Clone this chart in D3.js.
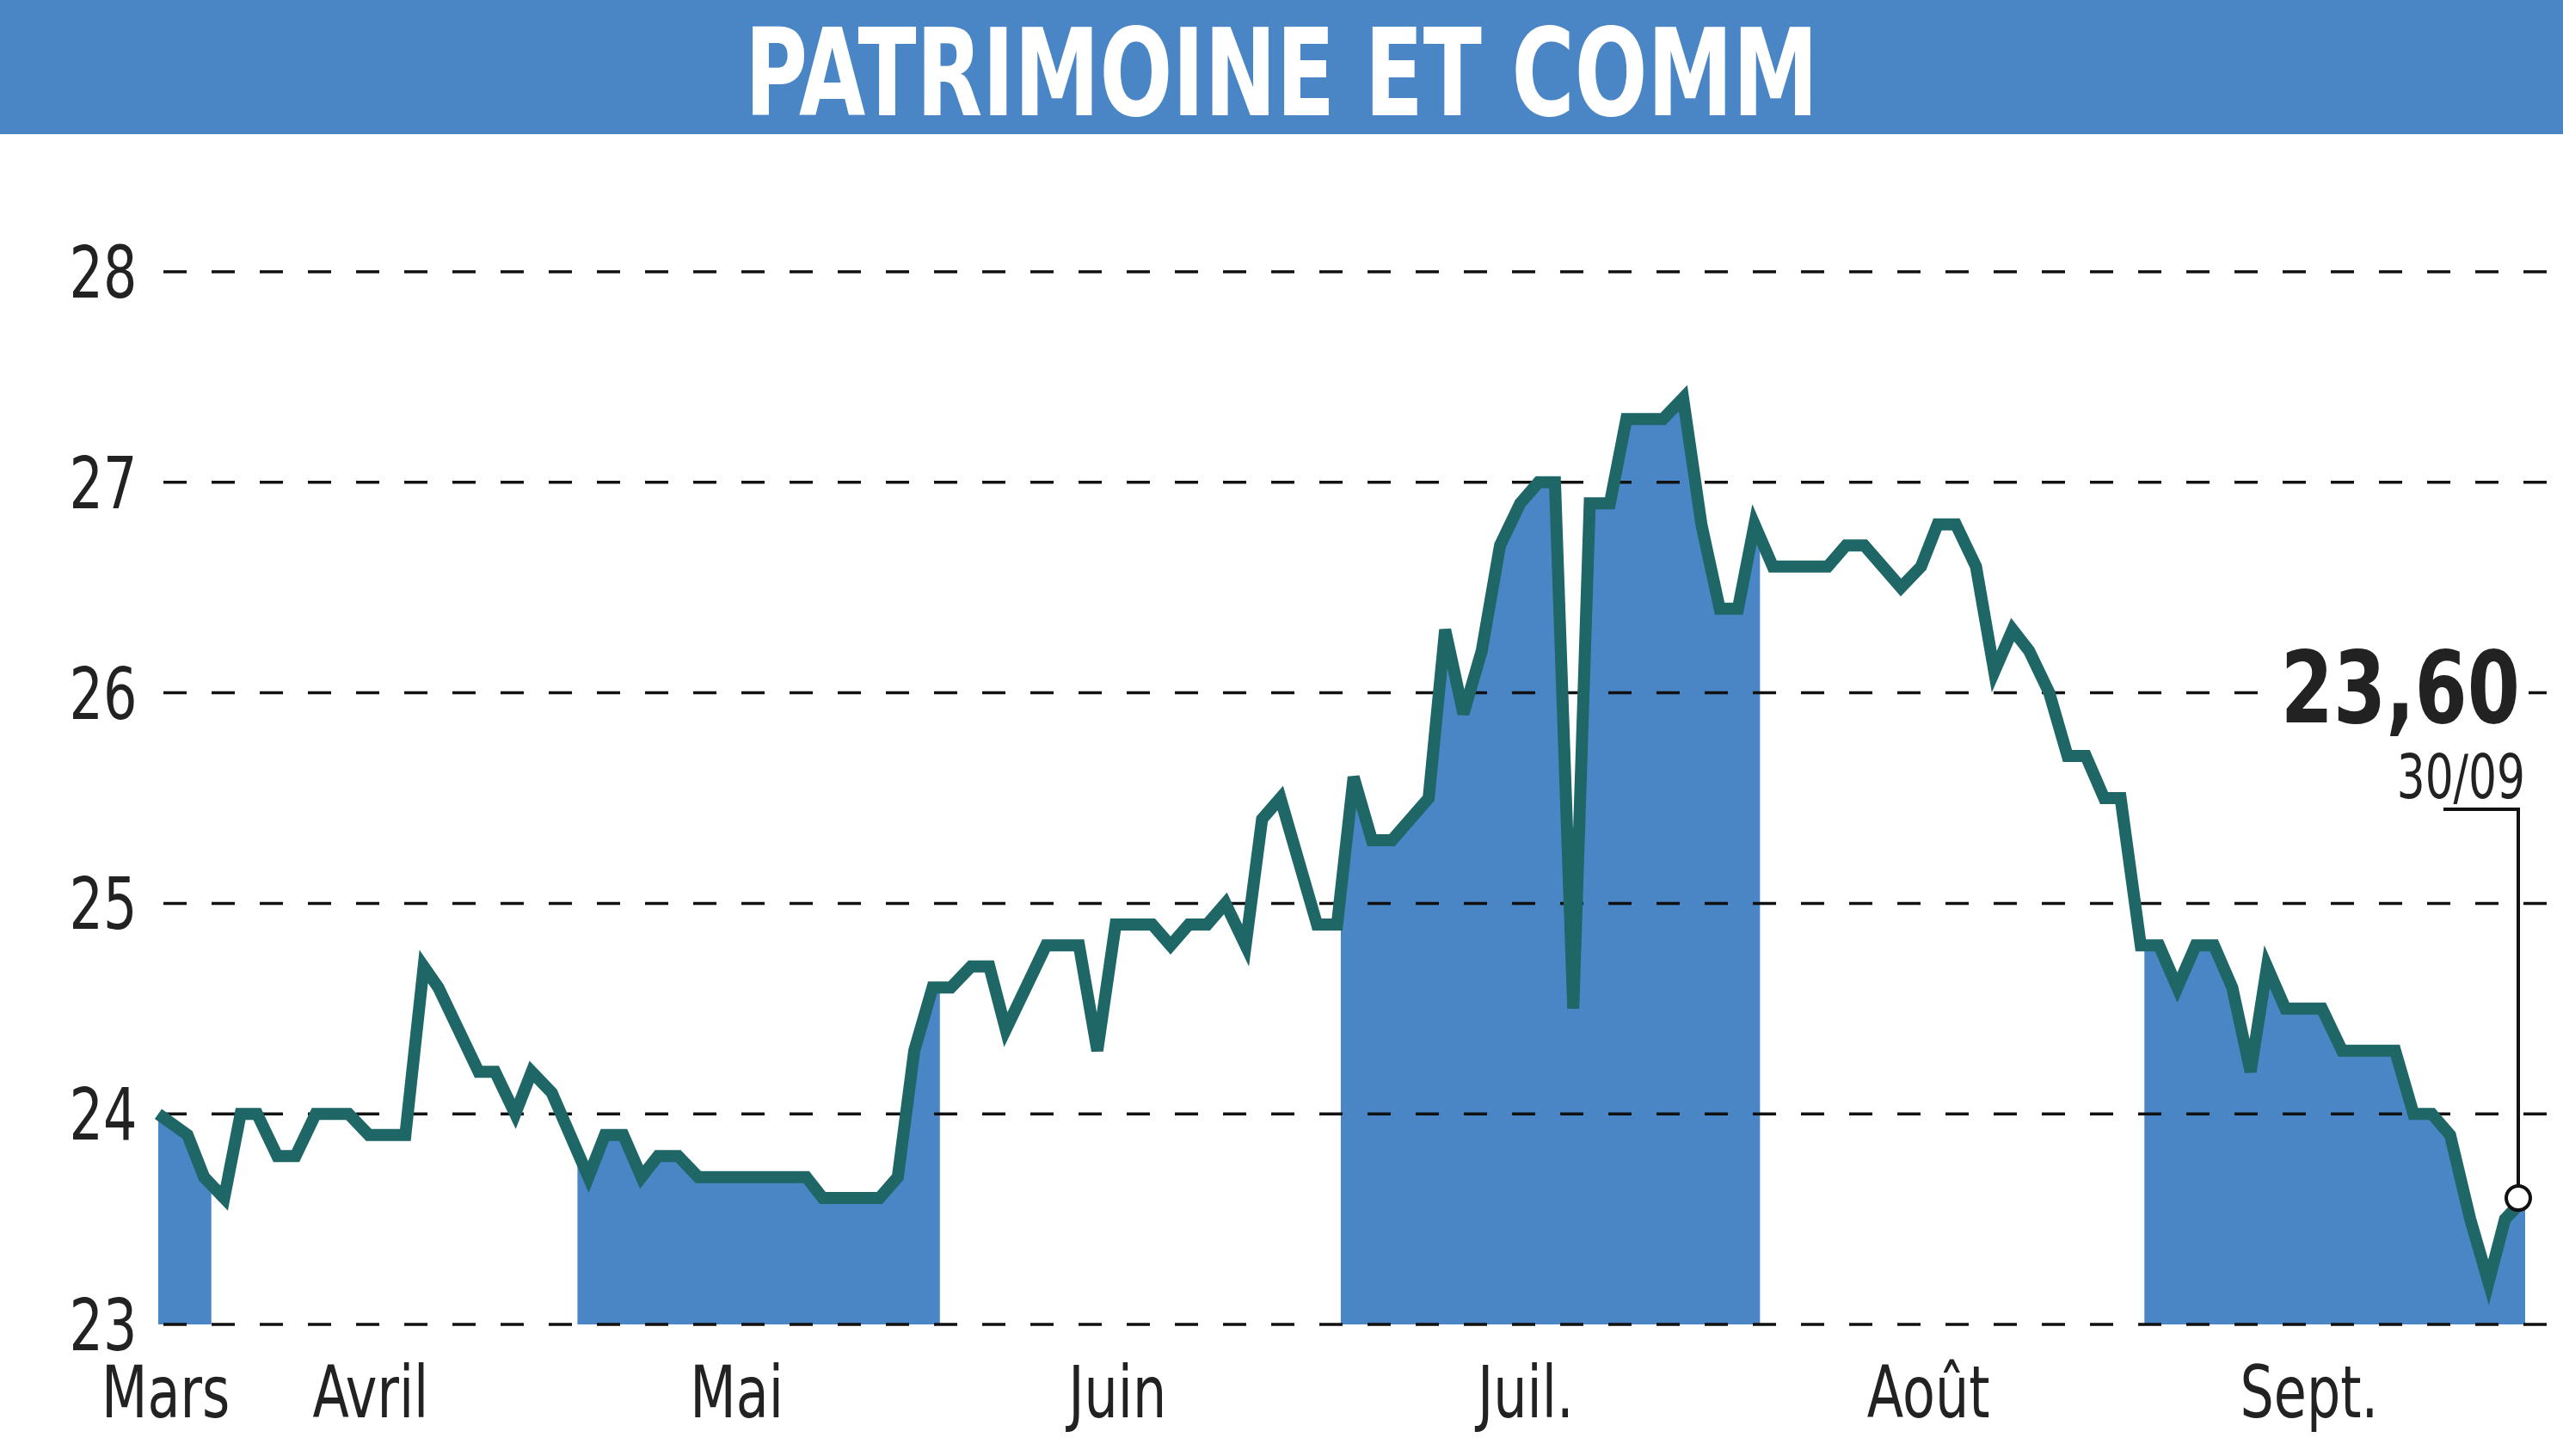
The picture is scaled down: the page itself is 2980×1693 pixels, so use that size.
<!DOCTYPE html>
<html><head><meta charset="utf-8">
<script src="https://cdn.jsdelivr.net/npm/d3@7/dist/d3.min.js"></script>
<style>body{margin:0;background:#fff}</style></head>
<body><svg id="c" width="2980" height="1693"></svg>
<script>
const title = "PATRIMOINE ET COMM";
const days = [0,1.6,2.5,3.6,4.5,5.4,6.5,7.5,8.6,10.4,11.5,13.5,14.5,15.3,17.5,18.4,19.5,20.4,21.5,23.5,24.4,25.4,26.4,27.3,28.4,29.5,35.4,36.3,39.4,40.4,41.3,42.3,43.3,44.4,45.4,46.3,48.5,50.3,51.3,52.3,54.3,55.3,56.3,57.3,58.3,59.4,60.3,61.3,63.3,64.4,65.3,66.3,67.4,69.4,70.3,71.3,72.3,73.3,74.4,75.4,76.3,77.3,78.2,79.3,80.2,82.2,83.3,84.3,85.3,86.3,87.2,88.2,91.2,92.2,93.2,95.2,96.3,97.2,98.2,99.3,100.3,101.3,102.2,103.3,104.3,105.3,106.3,107.2,108.3,109.3,110.3,111.3,112.3,113.3,114.3,115.2,116.2,118.2,119.3,122.2,123.2,124.2,125.2,126.3,127.3,128.2,129.3];
const prices = [24.0,23.9,23.7,23.6,24.0,24.0,23.8,23.8,24.0,24.0,23.9,23.9,24.7,24.6,24.2,24.2,24.0,24.2,24.1,23.7,23.9,23.9,23.7,23.8,23.8,23.7,23.7,23.6,23.6,23.7,24.3,24.6,24.6,24.7,24.7,24.4,24.8,24.8,24.3,24.9,24.9,24.8,24.9,24.9,25.0,24.8,25.4,25.5,24.9,24.9,25.6,25.3,25.3,25.5,26.3,25.9,26.2,26.7,26.9,27.0,27.0,24.5,26.9,26.9,27.3,27.3,27.4,26.8,26.4,26.4,26.8,26.6,26.6,26.7,26.7,26.5,26.6,26.8,26.8,26.6,26.1,26.3,26.2,26.0,25.7,25.7,25.5,25.5,24.8,24.8,24.6,24.8,24.8,24.6,24.2,24.7,24.5,24.5,24.3,24.3,24.0,24.0,23.9,23.5,23.2,23.5,23.6];
const months = ["Mars","Avril","Mai","Juin","Juil.","Août","Sept."];
const monthStart = [0,2.9,22.9,42.7,64.6,87.5,108.5,129.3];
const monthLabelDay = [null,11.6,31.6,52.4,74.7,96.7,117.5];
const yTicks = [23,24,25,26,27,28];
const lastLabel = "23,60", lastDate = "30/09";

const svg = d3.select("#c");
const x = d3.scaleLinear().domain([0,129.3]).range([184,2936]);
const y = d3.scaleLinear().domain([23,28]).range([1540,316]);
const data = days.map((d,i)=>({d, v:prices[i]}));

svg.append("rect").attr("x",0).attr("y",0).attr("width",2980).attr("height",156).attr("fill","#4a86c5");
svg.append("text").attr("x",1490).attr("y",134).attr("text-anchor","middle")
  .attr("font-family","DejaVu Sans Condensed").attr("font-weight","bold").attr("font-size",140)
  .attr("textLength",1248).attr("lengthAdjust","spacingAndGlyphs").attr("fill","#fff").text(title);

const defs = svg.append("defs");
[0,2,4,6].forEach(k=>{
  defs.append("clipPath").attr("id","cp"+k).append("rect")
    .attr("x",x(monthStart[k])).attr("width",x(monthStart[k+1])-x(monthStart[k]))
    .attr("y",0).attr("height",1693);
  svg.append("path").datum(data).attr("clip-path","url(#cp"+k+")")
    .attr("fill","#4a86c5")
    .attr("d",d3.area().x(p=>x(p.d)).y0(y(23)).y1(p=>y(p.v)));
});

svg.append("g").selectAll("line").data(yTicks).join("line")
  .attr("x1",190).attr("x2",2980).attr("y1",d=>y(d)).attr("y2",d=>y(d))
  .attr("stroke","#111").attr("stroke-width",3.5).attr("stroke-dasharray","27,29");
svg.append("g").selectAll("text").data(yTicks).join("text")
  .attr("x",120).attr("y",d=>y(d)+30).attr("text-anchor","middle")
  .attr("font-family","DejaVu Sans Condensed").attr("font-size",84).attr("fill","#222")
  .attr("transform","translate(120,0) scale(0.82,1) translate(-120,0)").text(d=>d);

svg.append("path").datum(data).attr("fill","none").attr("stroke","#1f6766")
  .attr("stroke-width",14).attr("stroke-linejoin","miter")
  .attr("d",d3.line().x(p=>x(p.d)).y(p=>y(p.v)));

svg.append("g").selectAll("text").data(months).join("text")
  .attr("y",1648)
  .attr("font-family","DejaVu Sans Condensed").attr("font-size",84).attr("fill","#222")
  .text(m=>m)
  .each(function(m,i){
    const el=d3.select(this); const w=this.getComputedTextLength()*0.82;
    const cx = i===0 ? 118 + w/2 : x(monthLabelDay[i]);
    el.attr("text-anchor","middle").attr("x",cx)
      .attr("transform",`translate(${cx},0) scale(0.82,1) translate(${-cx},0)`);
  });

const lx = x(days[days.length-1]), ly = y(prices[prices.length-1]);
svg.append("rect").attr("x",2630).attr("y",745).attr("width",310).attr("height",190).attr("fill","#fff");
svg.append("path").attr("fill","none").attr("stroke","#111").attr("stroke-width",4)
  .attr("d",`M${lx-95},941 H${lx-8} V${ly-14}`);
svg.append("circle").attr("cx",lx-8).attr("cy",ly).attr("r",14)
  .attr("fill","#fff").attr("stroke","#111").attr("stroke-width",4);
svg.append("text").attr("x",2930).attr("y",840).attr("text-anchor","end")
  .attr("font-family","DejaVu Sans Condensed").attr("font-weight","bold").attr("font-size",115)
  .attr("fill","#222").attr("transform","translate(2930,0) scale(0.85,1) translate(-2930,0)").text(lastLabel);
svg.append("text").attr("x",2936).attr("y",928).attr("text-anchor","end")
  .attr("font-family","DejaVu Sans Condensed").attr("font-size",72)
  .attr("fill","#222").attr("transform","translate(2936,0) scale(0.8,1) translate(-2936,0)").text(lastDate);
</script></body></html>
